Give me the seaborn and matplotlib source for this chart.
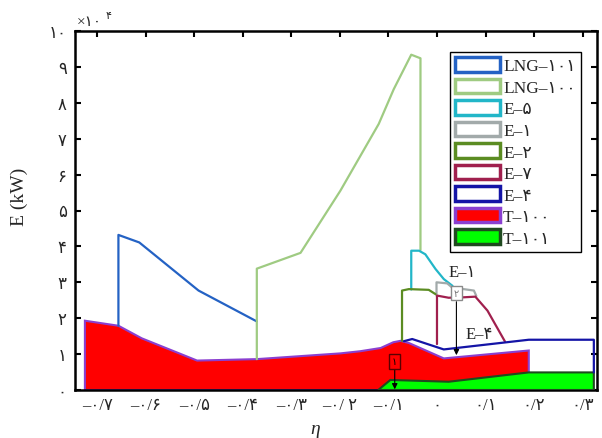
import matplotlib
matplotlib.use('Agg')
import matplotlib.pyplot as plt
from matplotlib.patches import Patch
import pandas as pd
import seaborn as sns

# ---- data: eta (exergy efficiency axis) vs E (x10^4 kW) ----
t100_eta = [-0.725, -0.725, -0.656, -0.608, -0.494, -0.371, -0.199, -0.158, -0.116,
            -0.090, -0.075, -0.058, 0.014, 0.189, 0.189]
t100_E = [0.0, 1.93, 1.79, 1.44, 0.82, 0.86, 1.02, 1.08, 1.17,
          1.33, 1.37, 1.31, 0.88, 1.10, 0.0]

t101_eta = [-0.121, -0.096, 0.024, 0.189, 0.323, 0.323]
t101_E = [0.0, 0.28, 0.23, 0.49, 0.49, 0.0]

lng101_eta = [-0.656, -0.656, -0.613, -0.491, -0.371]
lng101_E = [1.79, 4.32, 4.11, 2.77, 1.91]

lng100_eta = [-0.371, -0.371, -0.281, -0.199, -0.120, -0.089, -0.053, -0.034, -0.034]
lng100_E = [0.86, 3.38, 3.82, 5.55, 7.41, 8.38, 9.34, 9.24, 3.90]

e5_eta = [-0.053, -0.053, -0.037, -0.024, -0.003, 0.014, 0.032]
e5_E = [2.80, 3.88, 3.88, 3.78, 3.37, 3.09, 2.90]

e1_eta = [-0.001, -0.001, 0.021, 0.035, 0.055, 0.076, 0.081]
e1_E = [2.63, 3.00, 2.97, 2.81, 2.81, 2.77, 2.62]

e2_eta = [-0.072, -0.072, -0.058, -0.017, -0.003]
e2_E = [1.37, 2.77, 2.81, 2.79, 2.67]

e7_eta = [0.000, 0.000, 0.024, 0.052, 0.079, 0.104, 0.140]
e7_E = [1.28, 2.63, 2.57, 2.58, 2.60, 2.21, 1.35]

e4_eta = [-0.068, -0.051, 0.014, 0.189, 0.323, 0.323]
e4_E = [1.36, 1.42, 1.13, 1.40, 1.40, 0.49]

legend_labels = ["LNG–۱۰۱", "LNG–۱۰۰", "E–۵", "E–۱", "E–۲", "E–۷", "E–۴", "T–۱۰۰", "T–۱۰۱"]
x_ticks = [-0.7, -0.6, -0.5, -0.4, -0.3, -0.2, -0.1, 0.0, 0.1, 0.2, 0.3]
x_ticklabels = ["–۰/۷", "–۰/۶", "–۰/۵", "–۰/۴", "–۰/۳", "–۰/ ۲", "–۰/۱", "۰", "۰/۱", "۰/۲", "۰/۳"]
y_ticks = list(range(0, 11))
y_ticklabels = ["۰", "۱", "۲", "۳", "۴", "۵", "۶", "۷", "۸", "۹", "۱۰"]

# ---- style ----
sns.set_style("white")
plt.rcParams['font.family'] = ['Liberation Serif', 'DejaVu Sans']

fig = plt.figure(figsize=(6.02, 4.39), dpi=100)
ax = fig.add_axes([75/602, 1-391/439, 522/602, 359/439])

# filled streams
ax.fill(t100_eta, t100_E, facecolor='#ff0000', edgecolor='#8a3fd0', linewidth=1.5, zorder=2)
ax.fill(t101_eta, t101_E, facecolor='#00ff00', edgecolor='#1f4a1f', linewidth=1.5, zorder=3)

lines = [
    (lng101_eta, lng101_E, '#2462c4'),
    (lng100_eta, lng100_E, '#9fcb82'),
    (e5_eta, e5_E, '#22b6c8'),
    (e1_eta, e1_E, '#a2aaaa'),
    (e2_eta, e2_E, '#5b8c22'),
    (e7_eta, e7_E, '#a0204e'),
    (e4_eta, e4_E, '#1414a6'),
]
for xs, ys, col in lines:
    df = pd.DataFrame({'eta': xs, 'E': ys})
    sns.lineplot(data=df, x='eta', y='E', sort=False, estimator=None,
                 color=col, linewidth=1.6, ax=ax, zorder=4)

# annotations
ax.text(0.040, 2.70, '۲', ha='center', va='center', fontsize=7, color='#777777',
        bbox=dict(boxstyle='square,pad=0.3', fc='white', ec='#8a8a8a', lw=1), zorder=6)
ax.annotate('', xy=(0.040, 0.97), xytext=(0.040, 2.46),
            arrowprops=dict(arrowstyle='-|>', color='black', lw=0.8, mutation_scale=8,
                            shrinkA=0, shrinkB=0), zorder=5)
ax.text(-0.087, 0.80, '۱', ha='center', va='center', fontsize=7, color='black',
        bbox=dict(boxstyle='square,pad=0.3', fc='#ff0000', ec='#5a0000', lw=1), zorder=6)
ax.annotate('', xy=(-0.087, 0.02), xytext=(-0.087, 0.57),
            arrowprops=dict(arrowstyle='-|>', color='black', lw=0.8, mutation_scale=8,
                            shrinkA=0, shrinkB=0), zorder=5)
ax.text(0.052, 3.29, 'E–۱', ha='center', va='center', fontsize=12, zorder=6)
ax.text(0.086, 1.57, 'E–۴', ha='center', va='center', fontsize=12, zorder=6)

# axes
ax.set_xlim(-0.7454, 0.3295)
ax.set_ylim(0, 10)
ax.set_xticks(x_ticks)
ax.set_xticklabels(x_ticklabels, fontsize=12)
ax.set_yticks(y_ticks)
ax.set_yticklabels(y_ticklabels, fontsize=12)
ax.tick_params(direction='in', top=True, right=True, bottom=True, left=True,
               length=4, width=1.5, color='black')
ax.tick_params(axis='x', pad=5)
ax.tick_params(axis='y', pad=6)
for sp in ax.spines.values():
    sp.set_visible(True)
    sp.set_color('black')
    sp.set_linewidth(1.8)

ax.set_xlabel('')
ax.set_ylabel('E (kW)', fontsize=14)
ax.yaxis.set_label_coords(-0.09, 0.54)
ax.text(0.46, -0.108, 'η', transform=ax.transAxes, fontsize=14, style='italic',
        ha='center', va='center')

ax.text(0.003, 1.008, '×۱۰', transform=ax.transAxes, fontsize=11, ha='left', va='bottom')
ax.text(0.058, 1.032, '۴', transform=ax.transAxes, fontsize=8, ha='left', va='bottom')

# legend
colors_edge = ['#2462c4', '#9fcb82', '#22b6c8', '#a2aaaa', '#5b8c22', '#a0204e', '#1414a6',
               '#8a3fd0', '#1f4a1f']
faces = ['white'] * 7 + ['#ff0000', '#00ff00']
handles = [Patch(facecolor=f, edgecolor=c, linewidth=2.5) for f, c in zip(faces, colors_edge)]
leg = ax.legend(handles, legend_labels, loc='upper left', bbox_to_anchor=(0.7184, 0.9415),
                borderaxespad=0, fontsize=12.5, handlelength=2.6, handleheight=0.9,
                labelspacing=0.25, handletextpad=0.15, borderpad=0.3,
                fancybox=False, framealpha=1, edgecolor='black')
leg.get_frame().set_linewidth(1.0)
leg.set_zorder(10)

fig.savefig('out.png', dpi=100)
